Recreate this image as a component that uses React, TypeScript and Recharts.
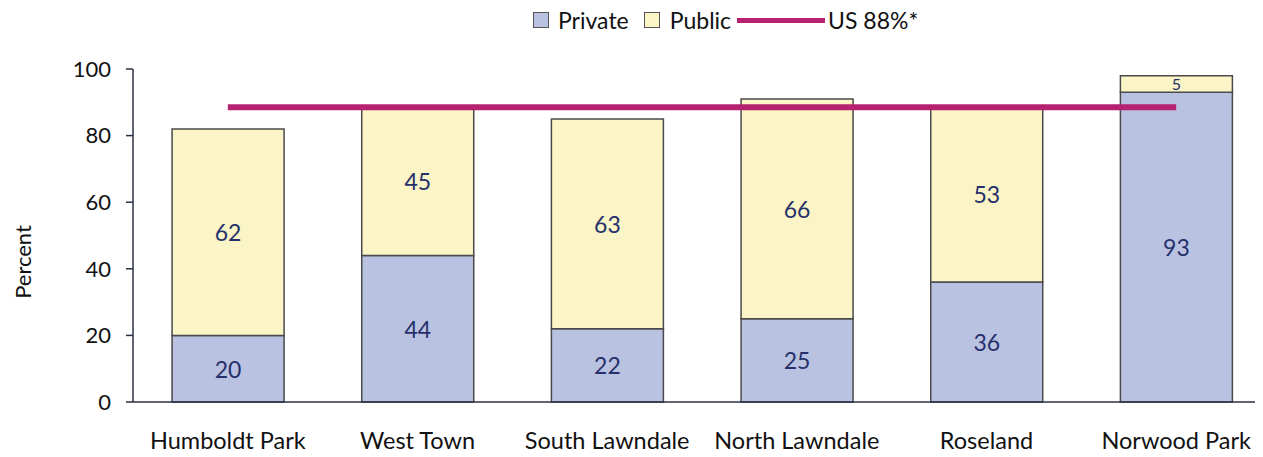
import { ComposedChart, Bar, Line, XAxis, YAxis, LabelList, Label } from 'recharts';

const areas = ['Humboldt Park', 'West Town', 'South Lawndale', 'North Lawndale', 'Roseland', 'Norwood Park'];
const privateShare = [20, 44, 22, 25, 36, 93];
const publicShare = [62, 45, 63, 66, 53, 5];
// line sits a touch above the 88 gridline in the source
const usRate = [88.5, 88.5, 88.5, 88.5, 88.5, 88.5];
const yTicks = [0, 20, 40, 60, 80, 100];

const data = areas.map((name, i) => ({
  name,
  private: privateShare[i],
  public: publicShare[i],
  us: usRate[i],
}));

const FONT = 'Lato, "Open Sans", sans-serif';
const NAVY = '#26306b';
const PRIVATE_FILL = '#bac2e1';
const PUBLIC_FILL = '#faf4c6';
const US_LINE = '#b6226f';

// value labels shrink when the segment is thin
const renderValue = (props: any) => {
  const { x, y, width, height, value } = props;
  const small = height < 30;
  return (
    <text
      x={x + width / 2}
      y={y + height / 2}
      textAnchor="middle"
      dominantBaseline="central"
      fill={NAVY}
      fontSize={small ? 16 : 23}
      fontFamily={FONT}
    >
      {value}
    </text>
  );
};

const renderAxisTitle = () => (
  <text
    x={22}
    y={262}
    transform="rotate(-90 22 262)"
    textAnchor="middle"
    dominantBaseline="central"
    fill="#111"
    fontSize={22}
    fontFamily={FONT}
  >
    Percent
  </text>
);

const LegendBox = () => (
  <div
    style={{
      position: 'absolute',
      top: 6,
      left: 533,
      display: 'flex',
      alignItems: 'center',
      fontFamily: FONT,
      fontSize: 23,
      color: '#111',
      whiteSpace: 'nowrap',
    }}
  >
    <span style={{ width: 14, height: 14, background: PRIVATE_FILL, border: '1px solid #555', marginRight: 9 }} />
    <span style={{ marginRight: 15 }}>Private</span>
    <span style={{ width: 14, height: 14, background: PUBLIC_FILL, border: '1px solid #555', marginRight: 10 }} />
    <span style={{ marginRight: 6 }}>Public</span>
    <span style={{ width: 88, height: 5, background: US_LINE, marginRight: 3 }} />
    <span>US 88%*</span>
  </div>
);

export default function App() {
  return (
    <div style={{ position: 'relative', margin: -8, width: 1263, height: 457, overflow: 'hidden', background: '#fff' }}>
      <LegendBox />
      <ComposedChart
        width={1275}
        height={457}
        data={data}
        margin={{ top: 69, right: 4, bottom: 0, left: 0 }}
        barCategoryGap="20.6%"
      >
        <XAxis
          dataKey="name"
          axisLine={{ stroke: '#2b2f45', strokeWidth: 1.5 }}
          tickLine={false}
          height={55}
          tickMargin={24}
          tick={{ fill: '#111', fontSize: 23.5, fontFamily: FONT }}
          interval={0}
        />
        <YAxis
          domain={[0, 100]}
          ticks={yTicks}
          width={133}
          axisLine={{ stroke: '#2b2f45', strokeWidth: 1.5 }}
          tickLine={{ stroke: '#2b2f45', strokeWidth: 1.5 }}
          tickSize={7}
          tickMargin={15}
          tick={{ fill: '#111', fontSize: 22, fontFamily: FONT }}
        >
          <Label content={renderAxisTitle} />
        </YAxis>
        <Bar dataKey="private" stackId="a" fill={PRIVATE_FILL} stroke="#4a4a4a" strokeWidth={1.5} isAnimationActive={false}>
          <LabelList dataKey="private" content={renderValue} />
        </Bar>
        <Bar dataKey="public" stackId="a" fill={PUBLIC_FILL} stroke="#4a4a4a" strokeWidth={1.5} isAnimationActive={false}>
          <LabelList dataKey="public" content={renderValue} />
        </Bar>
        <Line dataKey="us" stroke={US_LINE} strokeWidth={6} dot={false} activeDot={false} isAnimationActive={false} />
      </ComposedChart>
    </div>
  );
}
